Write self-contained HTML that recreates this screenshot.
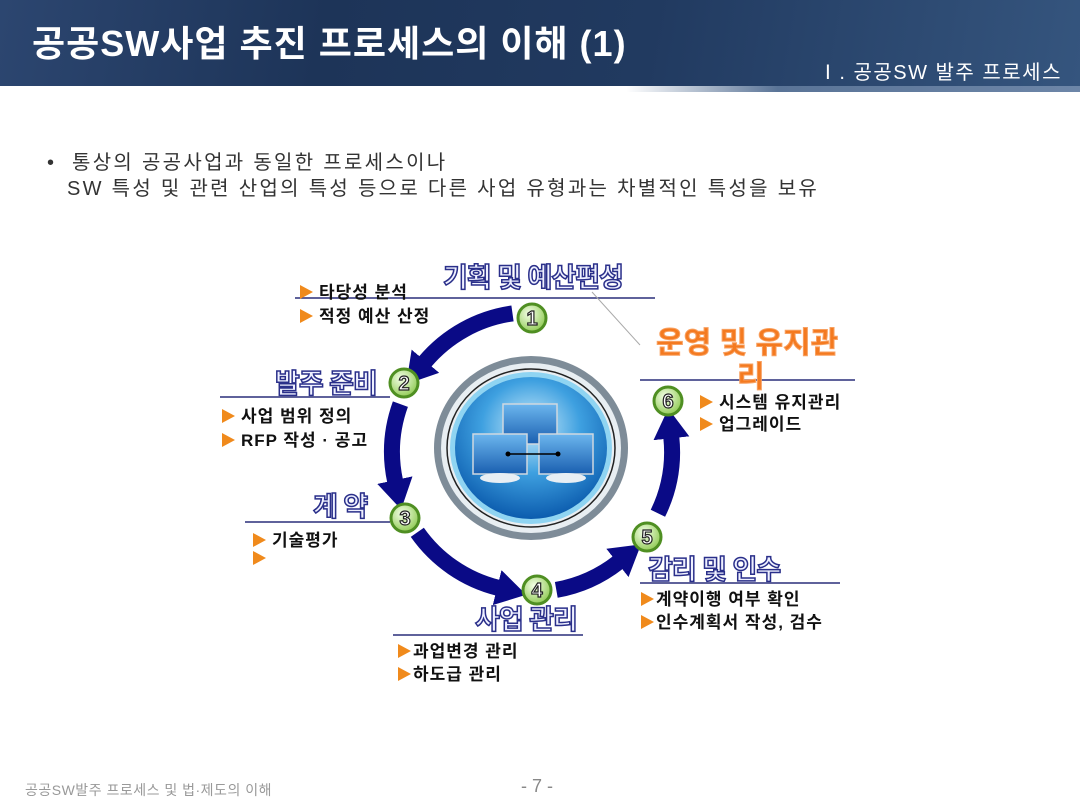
<!DOCTYPE html>
<html><head><meta charset="utf-8">
<style>
body{margin:0;width:1080px;height:810px;overflow:hidden;background:#fff;font-family:"Liberation Sans","Noto Sans CJK KR",sans-serif;position:relative}
.hdr{position:absolute;left:0;top:0;width:1080px;height:86px;background:linear-gradient(100deg,#2c4670 0%,#1d3458 30%,#213a60 60%,#35557e 100%)}
.hdr2{position:absolute;left:0;top:86px;width:1080px;height:6px;background:linear-gradient(90deg,#fff 0%,#fff 58%,#5a7497 72%,#6d86a8 100%)}
.t{position:absolute;white-space:nowrap}
.title{left:32px;top:15px;font-size:36px;font-weight:bold;color:#fff;letter-spacing:1px}
.sub{right:18px;top:56px;font-size:20px;color:#fff;letter-spacing:1.5px}
.body{font-size:20px;color:#333;left:47px;letter-spacing:2.3px}
.it{font-size:17px;font-weight:bold;color:#111;letter-spacing:1px}
.tri{display:inline-block;width:0;height:0;border-top:7px solid transparent;border-bottom:7px solid transparent;border-left:13px solid #f08a1c;vertical-align:-1px;margin-right:6px}
.sec{font-size:27px;font-weight:bold;color:#eef0ff;-webkit-text-stroke:1.5px #2a2f8a;letter-spacing:-1px}
.org{font-size:30px;font-weight:bold;color:#f47a20;-webkit-text-stroke:1px #f8a060}
</style></head><body>
<div class="hdr"></div><div class="hdr2"></div>
<div class="t title">공공SW사업 추진 프로세스의 이해 (1)</div>
<div class="t sub">Ⅰ. 공공SW 발주 프로세스</div>
<div class="t body" style="top:146px">•&nbsp;&nbsp;통상의 공공사업과 동일한 프로세스이나</div>
<div class="t body" style="top:172px;left:67px">SW 특성 및 관련 산업의 특성 등으로 다른 사업 유형과는 차별적인 특성을 보유</div>

<svg width="1080" height="810" style="position:absolute;left:0;top:0">
<defs>
<marker id="ah" markerUnits="userSpaceOnUse" markerWidth="32" markerHeight="36" refX="1" refY="18" orient="auto">
<path d="M0,0 L30,18 L0,36 Z" fill="#0a0a86"/></marker>
<radialGradient id="bl" cx="50%" cy="35%" r="65%"><stop offset="0" stop-color="#cfeefc"/><stop offset="0.5" stop-color="#3ea0e0"/><stop offset="1" stop-color="#0c5cae"/></radialGradient>
<radialGradient id="gr" cx="40%" cy="35%" r="70%"><stop offset="0" stop-color="#f4ffe8"/><stop offset="1" stop-color="#8cc84e"/></radialGradient>
<linearGradient id="scr" x1="0" y1="0" x2="0" y2="1"><stop offset="0" stop-color="#6cb6ee"/><stop offset="1" stop-color="#1a5fb0"/></linearGradient>
</defs>
<g fill="none" stroke="#0a0a86" stroke-width="16" marker-end="url(#ah)">
<path d="M512.5,313.4 A140,140 0 0 0 424.8,362"/>
<path d="M400.4,404.1 A140,140 0 0 0 395.1,481.1"/>
<path d="M417.3,532.3 A140,140 0 0 0 498.1,587.8"/>
<path d="M556.3,589.9 A140,140 0 0 0 618.2,562.3"/>
<path d="M657.9,513.3 A140,140 0 0 0 671.3,437.3"/>
</g>
<ellipse cx="531" cy="448" rx="97" ry="92" fill="#7e8c98"/>
<ellipse cx="531" cy="448" rx="90" ry="85" fill="#e8eef2"/>
<ellipse cx="531" cy="448" rx="84" ry="79" fill="none" stroke="#222" stroke-width="1.5"/>
<ellipse cx="531" cy="448" rx="81" ry="76" fill="#8fd4f2"/>
<ellipse cx="531" cy="448" rx="76" ry="71" fill="url(#bl)"/>
<g stroke="#cfd8e0" stroke-width="1.5">
<rect x="503" y="404" width="54" height="40" fill="url(#scr)"/>
<rect x="473" y="434" width="54" height="40" fill="url(#scr)"/>
<rect x="539" y="434" width="54" height="40" fill="url(#scr)"/>
</g>
<ellipse cx="500" cy="478" rx="20" ry="5" fill="#e8eef4"/>
<ellipse cx="566" cy="478" rx="20" ry="5" fill="#e8eef4"/>
<line x1="508" y1="454" x2="558" y2="454" stroke="#000" stroke-width="1.5"/>
<circle cx="508" cy="454" r="2.5"/><circle cx="558" cy="454" r="2.5"/>
<g stroke="#2a2f7a" stroke-width="1.5">
<line x1="295" y1="298" x2="655" y2="298"/>
<line x1="220" y1="397" x2="390" y2="397"/>
<line x1="245" y1="522" x2="390" y2="522"/>
<line x1="393" y1="635" x2="583" y2="635"/>
<line x1="640" y1="583" x2="840" y2="583"/>
<line x1="640" y1="380" x2="855" y2="380"/>
</g>
<line x1="592" y1="292" x2="640" y2="345" stroke="#aaa" stroke-width="1"/>
<g stroke="#4f8f22" stroke-width="3" fill="url(#gr)">
<circle cx="532" cy="318" r="14"/><circle cx="404" cy="383" r="14"/><circle cx="405" cy="518" r="14"/>
<circle cx="537" cy="590" r="14"/><circle cx="647" cy="537" r="14"/><circle cx="668" cy="401" r="14"/>
</g>
<g font-family="Liberation Sans" font-weight="bold" font-size="20" fill="#fff" stroke="#222" stroke-width="1.2" text-anchor="middle">
<text x="532" y="325">1</text><text x="404" y="390">2</text><text x="405" y="525">3</text>
<text x="537" y="597">4</text><text x="647" y="544">5</text><text x="668" y="408">6</text>
</g>
</svg>

<div class="t sec" style="left:443px;top:256px">기획 및 예산편성</div>
<div class="t it" style="left:300px;top:278px"><span class="tri"></span>타당성 분석</div>
<div class="t it" style="left:300px;top:302px"><span class="tri"></span>적정 예산 산정</div>
<div class="t sec" style="left:275px;top:362px">발주 준비</div>
<div class="t it" style="left:222px;top:402px"><span class="tri"></span>사업 범위 정의</div>
<div class="t it" style="left:222px;top:426px"><span class="tri"></span>RFP 작성 · 공고</div>
<div class="t sec" style="left:313px;top:485px">계 약</div>
<div class="t it" style="left:253px;top:526px"><span class="tri"></span>기술평가</div>
<div class="t it" style="left:253px;top:549px"><span class="tri"></span></div>
<div class="t sec" style="left:475px;top:598px">사업 관리</div>
<div class="t it" style="left:398px;top:637px"><span class="tri" style="margin-right:2px"></span>과업변경 관리</div>
<div class="t it" style="left:398px;top:660px"><span class="tri" style="margin-right:2px"></span>하도급 관리</div>
<div class="t sec" style="left:648px;top:548px">감리 및 인수</div>
<div class="t it" style="left:641px;top:585px"><span class="tri" style="margin-right:2px"></span>계약이행 여부 확인</div>
<div class="t it" style="left:641px;top:608px"><span class="tri" style="margin-right:2px"></span>인수계획서 작성, 검수</div>
<div class="t org" style="left:656px;top:318px">운영 및 유지관</div>
<div class="t org" style="left:737px;top:352px">리</div>
<div class="t it" style="left:700px;top:388px"><span class="tri"></span>시스템 유지관리</div>
<div class="t it" style="left:700px;top:410px"><span class="tri"></span>업그레이드</div>

<div class="t" style="left:25px;top:780px;font-size:14px;color:#999;letter-spacing:0.5px">공공SW발주 프로세스 및 법·제도의 이해</div>
<div class="t" style="left:521px;top:776px;font-size:18px;color:#888">- 7 -</div>
</body></html>
